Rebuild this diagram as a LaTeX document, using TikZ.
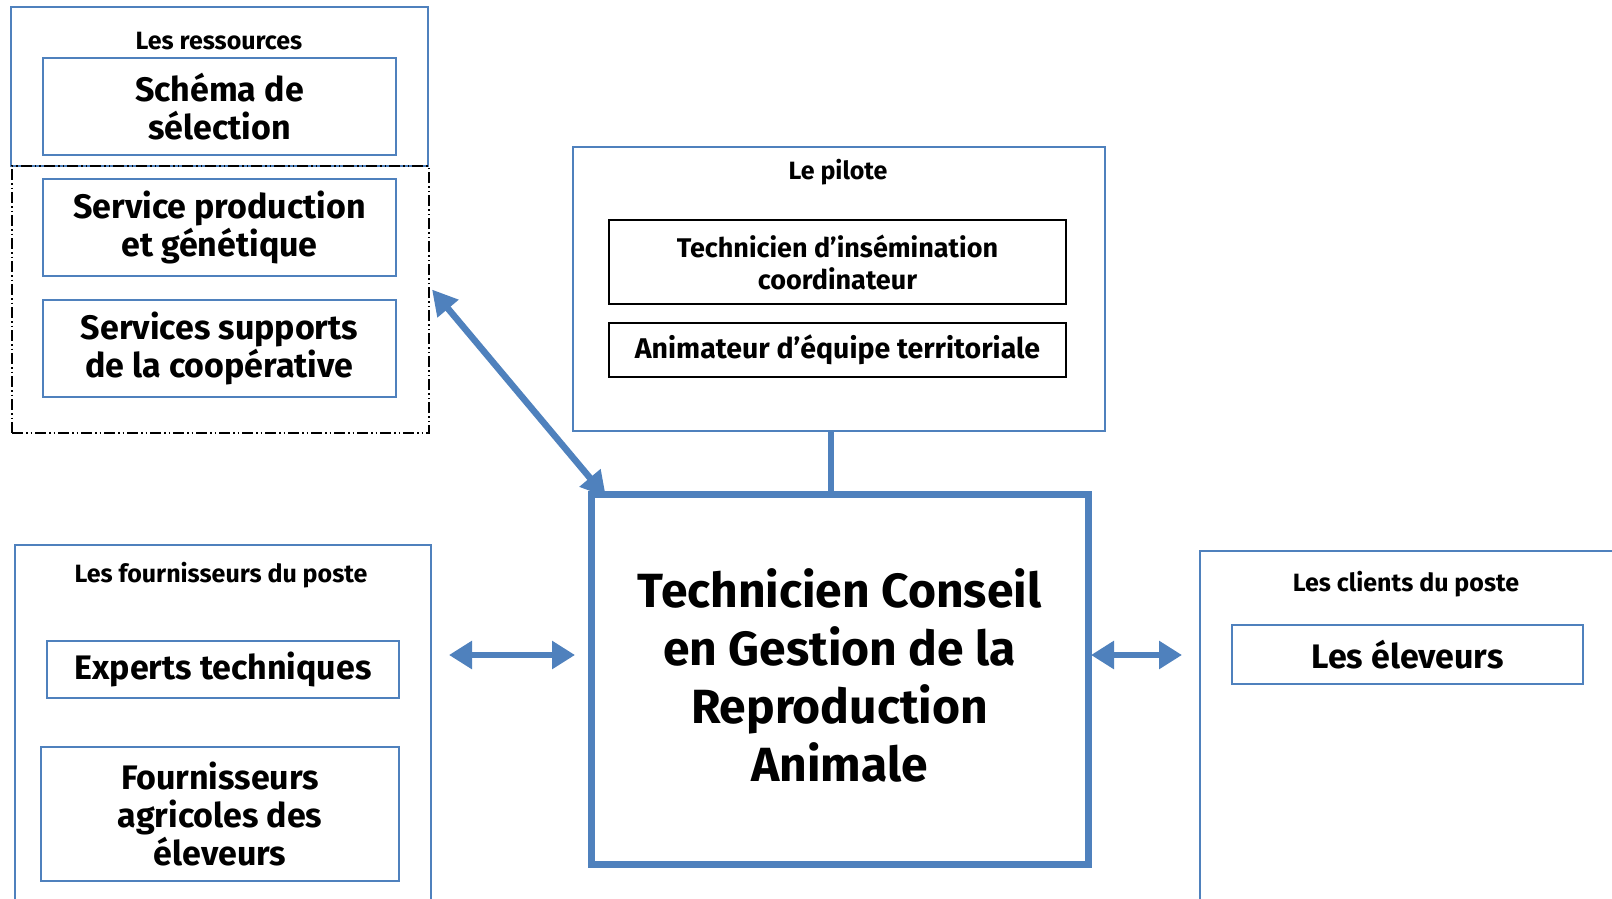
\documentclass[tikz,border=0pt]{standalone}
\usepackage{fontspec}
\setmainfont{Fira Sans}
\usetikzlibrary{arrows.meta,calc}
\definecolor{obl}{RGB}{79,129,189}
\begin{document}
\begin{tikzpicture}[x=1pt,y=-1pt,
  every node/.style={outer sep=0pt,inner sep=0pt,font=\bfseries,align=center},
  bluebox/.style={draw=obl,line width=1.6pt},
  blackbox/.style={draw=black,line width=1.8pt},
  dashbox/.style={draw=black,line width=1.5pt,dash pattern=on 11pt off 3pt on 1.5pt off 3pt on 1.5pt off 3pt},
  lbl/.style={font=\bfseries\fontsize{25}{30}\selectfont},
  bigtxt/.style={font=\bfseries\fontsize{34}{38}\selectfont},
  midtxt/.style={font=\bfseries\fontsize{27}{32}\selectfont},
  dblarrow/.style={obl,line width=6pt,{Triangle[width=27pt,length=23pt]}-{Triangle[width=27pt,length=23pt]}},
  diagarrow/.style={obl,line width=6.5pt,{Triangle[width=26pt,length=25pt]}-{Triangle[width=26pt,length=25pt]}}
]
\clip (0,0) rectangle (1612,899);
\fill[white] (0,0) rectangle (1612,899);

% Ressources
\node[bluebox,minimum width=417pt,minimum height=159pt] (res) at (219.5,86.5) {};
\node[lbl] (reslbl) at (219,41) {Les ressources};
\node[dashbox,minimum width=417pt,minimum height=267pt] (dbox) at (220.5,299.5) {};
\node[bluebox,minimum width=353pt,minimum height=97pt,bigtxt] (schema) at (219.5,106.5) {Schéma de\\sélection};
\node[bluebox,minimum width=353pt,minimum height=97pt,bigtxt] (sprod) at (219.5,227.5) {Service production\\et génétique};
\node[bluebox,minimum width=353pt,minimum height=97pt,bigtxt] (ssup) at (219.5,348.5) {Services supports\\de la coopérative};

% Pilote
\node[bluebox,minimum width=532pt,minimum height=284pt] (pilote) at (839,289) {};
\node[lbl] (pillbl) at (838,172) {Le pilote};
\node[blackbox,minimum width=457pt,minimum height=84pt,midtxt] (tins) at (837.5,262) {Technicien d’insémination\\coordinateur};
\node[blackbox,minimum width=457pt,minimum height=54pt,font=\bfseries\fontsize{28.5}{32}\selectfont] (anim) at (837.5,350) {Animateur d’équipe territoriale};

% Central
\node[draw=obl,line width=7pt,minimum width=497pt,minimum height=370pt] (central) at (839.5,679) {};
\node[font=\bfseries\fontsize{48}{58}\selectfont] (centraltxt) at (839.5,675) {Technicien Conseil\\en Gestion de la\\Reproduction\\Animale};
\coordinate (conx) at (831,0);
\draw[obl,line width=6pt] (pilote.south -| conx) -- (central.north -| conx);

% Fournisseurs
\node[bluebox,minimum width=416pt,minimum height=365pt] (fourn) at (223,727.5) {};
\node[lbl] (fournlbl) at (221,575) {Les fournisseurs du poste};
\node[bluebox,minimum width=352pt,minimum height=57pt,bigtxt] (experts) at (223,669.5) {Experts techniques};
\node[bluebox,minimum width=358pt,minimum height=134pt,bigtxt] (fagri) at (220,814) {Fournisseurs\\agricoles des\\éleveurs};

% Clients
\node[bluebox,minimum width=430pt,minimum height=359pt] (clients) at (1415,730.5) {};
\node[lbl] (clientslbl) at (1406,584) {Les clients du poste};
\node[bluebox,minimum width=351pt,minimum height=59pt,bigtxt] (eleveurs) at (1407.5,654.5) {Les éleveurs};

% Arrows
\coordinate (ay) at (0,655);
\draw[dblarrow,shorten <=18pt,shorten >=16pt] (fourn.east |- ay) -- (central.west |- ay);
\draw[dblarrow,shorten <=3pt,shorten >=18pt] (central.east |- ay) -- (clients.west |- ay);
\draw[diagarrow] ($(dbox.east)+(3,-10)$) -- ($(central.north west)+(15,3)$);
\end{tikzpicture}
\end{document}
